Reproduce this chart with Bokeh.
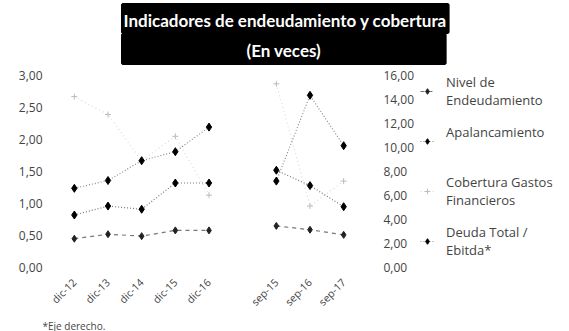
import math
from bokeh.plotting import figure
from bokeh.models import (Range1d, LinearAxis, FixedTicker,
                          CustomJSTickFormatter, Legend, LegendItem, Title)
from bokeh.embed import file_html
from bokeh.resources import INLINE

# ---- data ----
categories_annual = ["dic-12", "dic-13", "dic-14", "dic-15", "dic-16"]
categories_gap = [" "]
categories_sep = ["sep-15", "sep-16", "sep-17"]

nivel_annual = [0.45, 0.52, 0.49, 0.58, 0.58]
nivel_sep = [0.65, 0.59, 0.51]
apal_annual = [0.82, 0.96, 0.91, 1.32, 1.32]
apal_sep = [1.52, 1.28, 0.95]
cob_annual = [2.67, 2.39, 1.67, 2.05, 1.13]
cob_sep = [2.87, 0.96, 1.35]
deuda_annual = [6.6, 7.25, 8.9, 9.65, 11.7]   # right axis
deuda_sep = [7.2, 14.35, 10.15]               # right axis

left_ticks = [0, 0.5, 1.0, 1.5, 2.0, 2.5, 3.0]
right_ticks = [0, 2, 4, 6, 8, 10, 12, 14, 16]

title_line1 = "Indicadores de endeudamiento y cobertura"
title_line2 = "(En veces)"
footnote_text = "*Eje derecho."
labels = ["Nivel de\nEndeudamiento", "Apalancamiento\n ",
          "Cobertura Gastos\nFinancieros", "Deuda Total /\nEbitda*"]

# category positions on the x scale (one empty slot between the two groups)
all_categories = categories_annual + categories_gap + categories_sep
x_annual = [all_categories.index(c) for c in categories_annual]
x_sep = [all_categories.index(c) for c in categories_sep]

TXT = "#444444"
FONT = "Open Sans"

DATA_W = 303                      # width of the plotted category area
FRAME_W = 512                     # frame also hosts the legend on the right
unit = DATA_W / len(all_categories)
x_start = -0.5
x_end = x_start + FRAME_W / unit

p = figure(
    x_range=Range1d(x_start, x_end),
    y_range=Range1d(0, 3),
    width=569, height=331, frame_width=FRAME_W, frame_height=192,
    min_border_left=57, min_border_top=75, min_border_bottom=10, min_border_right=0,
    output_backend="svg", toolbar_location=None,
)
p.title.visible = False
p.extra_y_ranges = {"right": Range1d(0, 16)}
p.outline_line_color = None
p.xgrid.visible = False
p.ygrid.visible = False

fmt = CustomJSTickFormatter(code="return tick.toFixed(2).replace('.', ',');")

yl = p.yaxis[0]
yl.ticker = FixedTicker(ticks=left_ticks)
yl.formatter = fmt
yr = LinearAxis(y_range_name="right", ticker=FixedTicker(ticks=right_ticks), formatter=fmt)
p.add_layout(yr, "right")
# right labels sit just right of the data area (frame extends under the legend)
right_standoff = -int(round(FRAME_W - DATA_W - 23))
for ax, so in ((yl, 15), (yr, right_standoff)):
    ax.axis_line_color = None
    ax.major_tick_line_color = None
    ax.minor_tick_line_color = None
    ax.major_tick_out = 0
    ax.minor_tick_out = 0
    ax.major_label_standoff = so
    ax.major_label_text_font = FONT
    ax.major_label_text_font_size = "12px"
    ax.major_label_text_color = TXT

xa = p.xaxis[0]
xa.ticker = FixedTicker(ticks=x_annual + x_sep)
xa.major_label_overrides = {i: c for i, c in enumerate(all_categories) if c.strip()}
xa.axis_line_color = None
xa.major_tick_line_color = None
xa.minor_tick_line_color = None
xa.major_tick_out = 0
xa.minor_tick_out = 0
xa.major_label_orientation = math.pi / 4
xa.major_label_standoff = 13
xa.major_label_text_font = FONT
xa.major_label_text_font_size = "10.5px"
xa.major_label_text_color = TXT

def series(xs, ys, line_color, dash, marker, msize, mcolor, y_range_name="default"):
    l = p.line(xs, ys, line_color=line_color, line_dash=dash, line_width=1.2,
               y_range_name=y_range_name)
    s = p.scatter(xs, ys, marker=marker, size=msize, fill_color=mcolor,
                  line_color=mcolor, y_range_name=y_range_name)
    return l, s

c1 = series(x_annual, cob_annual, "#dadada", "1 3", "cross", 6, "#bbbbbb")
series(x_sep, cob_sep, "#dadada", "1 3", "cross", 6, "#bbbbbb")
d1 = series(x_annual, deuda_annual, "#8a8a8a", "1 2", "diamond", 8, "black", "right")
series(x_sep, deuda_sep, "#8a8a8a", "1 2", "diamond", 8, "black", "right")
a1 = series(x_annual, apal_annual, "#777777", "1 2", "diamond", 8, "black")
series(x_sep, apal_sep, "#777777", "1 2", "diamond", 8, "black")
n1 = series(x_annual, nivel_annual, "#777777", "4 4", "diamond", 7, "#222222")
series(x_sep, nivel_sep, "#777777", "4 4", "diamond", 7, "#222222")

legend = Legend(items=[
    LegendItem(label=labels[0], renderers=list(n1)),
    LegendItem(label=labels[1], renderers=list(a1)),
    LegendItem(label=labels[2], renderers=list(c1)),
    LegendItem(label=labels[3], renderers=list(d1)),
], location=(363, 8))
legend.border_line_color = None
legend.background_fill_alpha = 0
legend.label_text_font = FONT
legend.label_text_font_size = "13px"
legend.label_text_color = TXT
legend.label_text_line_height = 1.35
legend.glyph_width = 14
legend.glyph_height = 14
legend.label_standoff = 12
legend.spacing = 14
legend.padding = 1
legend.margin = 0
p.add_layout(legend, "center")

# spacer between title box and frame, then the two title lines
p.add_layout(Title(text=" ", text_font_size="9px", standoff=0), "above")
p.add_layout(Title(text=title_line2, align="left", offset=65,
                   text_font="Lato", text_font_style="bold", text_font_size="17px",
                   text_color="white", background_fill_color="black",
                   border_line_color="black", border_line_width=3,
                   padding=dict(left=124, right=124, top=5, bottom=3), standoff=0), "above")
p.add_layout(Title(text=title_line1, align="left", offset=65,
                   text_font="Lato", text_font_style="bold", text_font_size="17px",
                   text_color="white", background_fill_color="black",
                   border_line_color="black", border_line_width=3,
                   padding=dict(left=1, right=1, top=5, bottom=2), standoff=0), "above")

p.add_layout(Title(text=footnote_text, align="left", offset=-15,
                   text_font=FONT, text_font_style="normal", text_font_size="10px",
                   text_color=TXT, standoff=0), "below")

open("out.html", "w").write(file_html(p, INLINE))
